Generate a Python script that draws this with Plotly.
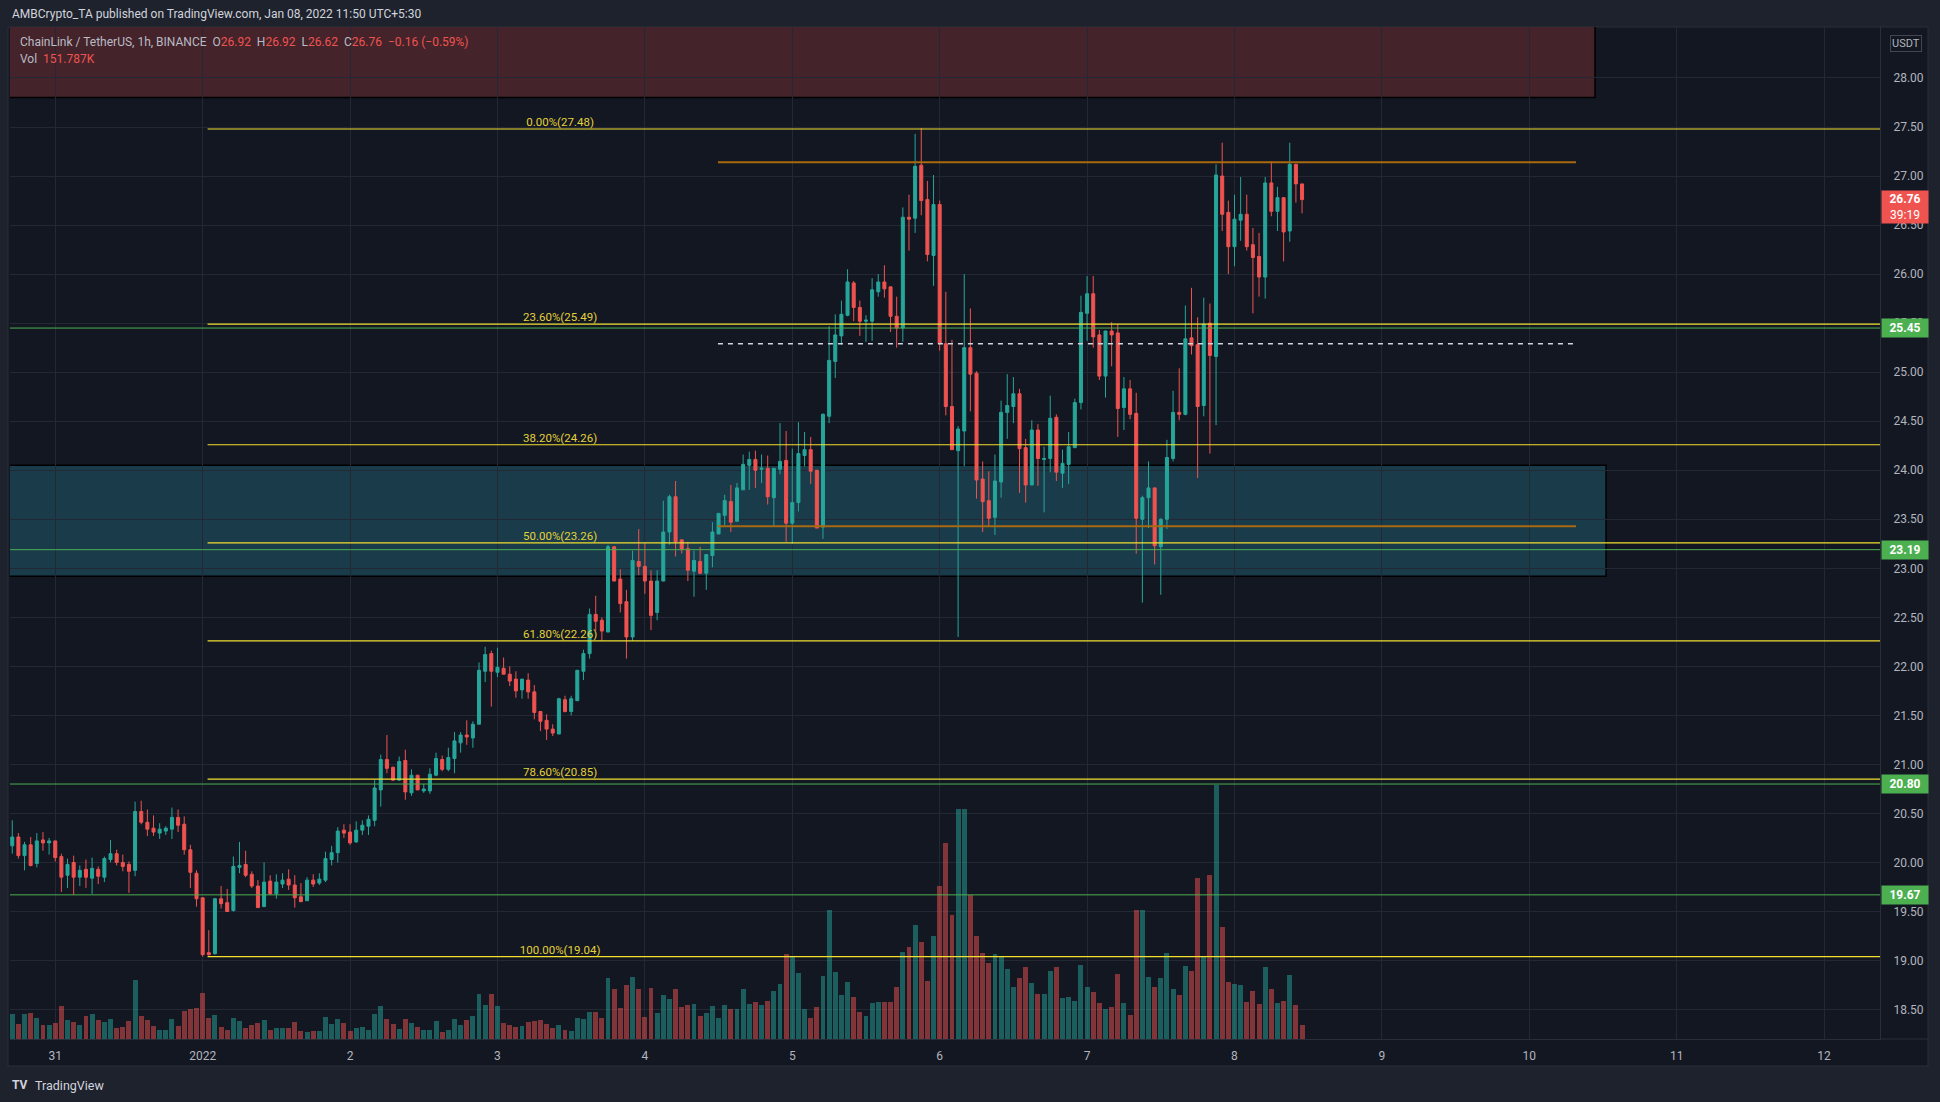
import pandas as pd
import plotly.graph_objects as go

# ---------------- data ----------------
opens = [20.17,20.26,20.07,20.18,19.99,20.23,20.20,20.22,20.06,19.87,
         20.00,19.85,19.93,19.84,19.93,19.85,20.03,20.09,20.00,19.98,
         19.92,20.52,20.41,20.35,20.30,20.32,20.34,20.46,20.39,20.13,
         19.89,19.64,19.08,19.07,19.63,19.59,19.51,19.95,19.98,19.88,
         19.76,19.55,19.81,19.68,19.78,19.83,19.77,19.65,19.61,19.82,
         19.79,19.82,20.03,20.10,20.33,20.31,20.21,20.33,20.37,20.43,
         20.74,21.05,20.97,20.84,21.04,20.71,20.89,20.73,20.73,20.89,
         21.05,20.95,21.06,21.22,21.30,21.27,21.41,21.95,22.13,21.94,
         21.98,21.92,21.87,21.76,21.86,21.74,21.54,21.45,21.36,21.31,
         21.66,21.54,21.65,21.95,22.13,22.53,22.47,22.35,23.22,22.89,
         22.66,22.30,23.07,23.02,22.87,22.55,22.87,23.37,23.73,23.29,
         23.20,22.97,23.07,22.95,23.13,23.35,23.54,23.68,23.48,23.80,
         24.05,24.11,24.01,24.02,23.72,24.01,24.10,23.46,23.67,24.15,
         24.21,24.00,23.42,24.55,25.11,25.37,25.58,25.91,25.66,25.52,
         25.52,25.82,25.92,25.87,25.57,25.45,26.58,26.57,27.11,26.76,
         26.19,26.71,25.29,24.65,24.20,24.40,25.25,24.99,23.91,23.69,
         23.52,23.88,24.59,24.65,24.78,24.23,23.85,24.41,24.11,24.12,
         24.54,23.97,24.06,24.23,24.69,25.60,25.80,25.38,24.96,25.42,
         25.40,24.64,24.83,24.58,23.50,23.72,23.82,23.22,23.50,24.12,
         24.59,24.57,25.35,25.28,24.66,25.50,25.16,27.00,26.63,26.28,
         26.55,26.61,26.30,26.18,25.97,26.93,26.64,26.78,26.44,27.12,
         26.92]
highs = [20.43,20.30,20.21,20.26,20.30,20.31,20.25,20.22,20.09,20.04,
         20.07,19.97,20.03,20.05,19.96,20.06,20.23,20.13,20.08,20.01,
         20.62,20.63,20.54,20.48,20.40,20.37,20.56,20.54,20.47,20.18,
         19.92,19.64,19.31,19.64,19.76,19.73,20.06,20.21,20.12,19.91,
         19.82,20.00,19.87,19.88,19.89,19.93,19.87,19.79,19.85,19.88,
         19.89,20.11,20.17,20.36,20.39,20.39,20.42,20.43,20.48,20.84,
         21.10,21.30,20.98,21.08,21.15,20.95,20.89,20.80,20.96,21.12,
         21.09,21.17,21.33,21.33,21.45,21.44,22.04,22.20,22.16,22.19,
         22.09,22.00,21.95,21.87,21.93,21.81,21.54,21.51,21.41,21.68,
         21.70,21.70,21.96,22.17,22.59,22.72,22.50,23.24,23.22,22.99,
         22.78,23.18,23.40,23.26,22.98,22.98,23.69,23.75,23.89,23.29,
         23.27,23.18,23.22,23.14,23.47,23.56,23.75,23.85,23.87,24.16,
         24.19,24.20,24.16,24.15,24.02,24.48,24.40,24.22,24.49,24.39,
         24.34,24.00,24.58,25.47,25.59,25.73,26.05,25.93,25.73,25.58,
         25.96,26.00,26.09,25.87,25.77,26.68,26.81,27.43,27.49,26.95,
         27.01,26.75,25.82,25.33,24.45,26.00,25.65,25.01,24.09,23.99,
         24.16,24.71,24.98,24.95,24.83,24.32,24.51,24.47,24.24,24.76,
         24.57,24.21,24.39,24.73,25.78,25.98,25.98,25.43,25.42,25.51,
         25.49,24.95,24.92,24.79,23.74,24.09,23.82,23.51,24.31,24.81,
         25.04,25.68,25.86,25.56,25.76,25.70,27.12,27.34,26.75,26.81,
         26.99,26.81,26.47,26.42,26.99,27.15,26.89,26.78,27.34,27.12,
         26.92]
lows = [20.09,20.04,19.92,19.96,19.95,20.12,20.08,20.01,19.70,19.74,
        19.67,19.76,19.74,19.68,19.78,19.80,20.00,19.97,19.91,19.69,
        19.86,20.39,20.27,20.27,20.24,20.28,20.24,20.31,20.08,19.74,
        19.55,19.04,19.05,19.06,19.53,19.50,19.50,19.89,19.85,19.74,
        19.54,19.55,19.67,19.63,19.74,19.72,19.54,19.60,19.61,19.75,
        19.77,19.80,19.97,20.00,20.25,20.18,20.20,20.28,20.28,20.37,
        20.57,20.91,20.83,20.83,20.64,20.68,20.74,20.71,20.70,20.88,
        20.93,20.93,20.91,21.12,21.20,21.17,21.41,21.84,21.59,21.89,
        21.92,21.80,21.68,21.67,21.67,21.46,21.34,21.25,21.29,21.31,
        21.53,21.50,21.65,21.86,22.08,22.36,22.26,22.35,22.87,22.55,
        22.08,22.26,22.93,22.74,22.37,22.47,22.87,23.24,23.12,23.15,
        22.87,22.71,22.94,22.78,23.01,23.35,23.44,23.37,23.48,23.80,
        23.80,23.82,23.87,23.65,23.43,23.96,23.27,23.25,23.58,24.04,
        23.86,23.41,23.30,24.48,24.94,25.28,25.57,25.52,25.37,25.31,
        25.32,25.77,25.76,25.41,25.25,25.31,26.24,26.42,26.60,26.13,
        25.88,25.22,24.56,24.21,22.30,24.04,24.60,23.71,23.37,23.43,
        23.34,23.72,24.32,24.48,23.77,23.67,23.85,23.84,23.57,23.98,
        23.89,23.82,23.86,24.23,24.62,25.32,25.25,24.92,24.74,25.06,
        24.34,24.41,24.52,23.15,22.65,23.41,23.04,22.73,23.40,24.09,
        24.51,24.56,25.18,23.92,24.55,24.17,24.46,26.44,26.00,26.08,
        26.34,26.24,25.60,25.77,25.75,26.59,26.44,26.13,26.33,26.73,
        26.62]
closes = [20.26,20.07,20.18,19.97,20.22,20.20,20.22,20.05,19.85,19.98,
          19.85,19.92,19.85,19.94,19.86,20.04,20.09,20.00,19.96,19.91,
          20.52,20.41,20.34,20.31,20.34,20.35,20.46,20.38,20.13,19.90,
          19.63,19.06,19.06,19.63,19.58,19.50,19.96,19.97,19.87,19.76,
          19.54,19.80,19.68,19.80,19.82,19.77,19.64,19.60,19.82,19.78,
          19.83,20.04,20.10,20.32,20.30,20.20,20.33,20.38,20.44,20.76,
          21.05,20.96,20.84,21.03,20.72,20.89,20.74,20.75,20.90,21.06,
          20.95,21.07,21.24,21.30,21.28,21.41,21.96,22.12,21.95,21.99,
          21.92,21.85,21.75,21.87,21.74,21.53,21.44,21.36,21.32,21.67,
          21.54,21.67,21.96,22.13,22.53,22.46,22.36,23.22,22.87,22.64,
          22.30,23.08,23.02,22.87,22.52,22.87,23.37,23.73,23.27,23.19,
          22.98,23.08,22.95,23.14,23.37,23.56,23.69,23.47,23.82,24.06,
          24.11,24.00,24.02,23.73,24.02,24.09,23.46,23.67,24.17,24.21,
          23.99,23.41,24.57,25.12,25.38,25.59,25.92,25.66,25.52,25.53,
          25.84,25.92,25.85,25.57,25.45,26.58,26.56,27.10,26.75,26.20,
          26.71,25.29,24.65,24.21,24.42,25.25,24.98,23.90,23.68,23.51,
          23.89,24.59,24.66,24.78,24.22,23.85,24.41,24.12,24.12,24.53,
          23.98,24.07,24.24,24.69,25.61,25.80,25.36,24.96,25.42,25.38,
          24.63,24.83,24.57,23.51,23.72,23.82,23.23,23.50,24.13,24.59,
          24.57,25.34,25.27,24.65,25.49,25.17,27.01,26.61,26.28,26.56,
          26.61,26.28,26.17,25.97,26.93,26.64,26.78,26.43,27.12,26.92,
          26.76]
volumes_k = [271,163,271,282,228,152,152,173,358,206,
             184,152,249,271,206,184,217,119,130,195,
             640,249,206,141,98,98,217,141,304,325,
             336,499,228,260,130,98,228,195,119,152,
             173,206,98,119,119,119,184,87,76,87,
             87,238,163,217,173,87,119,130,98,271,
             358,217,163,108,217,173,130,98,98,195,
             76,98,217,152,206,249,488,369,488,358,
             173,152,130,141,184,195,206,163,119,152,
             98,87,228,217,293,293,228,661,542,336,
             585,672,542,238,553,282,477,434,542,347,
             369,379,249,282,358,228,369,325,325,542,
             379,401,369,412,520,596,921,889,715,325,
             228,347,683,1398,726,477,618,455,293,249,
             390,401,401,401,564,943,997,1236,1051,629,
             1116,1658,2124,1344,2493,2493,1557,1116,932,824,
             921,900,759,564,661,780,607,488,488,737,
             780,444,455,412,802,564,509,390,325,347,
             705,390,260,1398,1398,672,564,661,932,542,
             477,791,737,1745,900,1778,2750,1214,618,596,
             585,401,520,379,780,542,390,412,694,369,
             151.787]

first_candle = "2021-12-30 17:00"
day_ticks = ["2021-12-31", "2022-01-01", "2022-01-02", "2022-01-03", "2022-01-04",
             "2022-01-05", "2022-01-06", "2022-01-07", "2022-01-08", "2022-01-09",
             "2022-01-10", "2022-01-11", "2022-01-12"]
day_labels = ["31", "2022", "2", "3", "4", "5", "6", "7", "8", "9", "10", "11", "12"]
price_ticks = [18.5, 19.0, 19.5, 20.0, 20.5, 21.0, 21.5, 22.0, 22.5, 23.0,
               23.5, 24.0, 24.5, 25.0, 25.5, 26.0, 26.5, 27.0, 27.5, 28.0]

fib_labels = ["0.00%", "23.60%", "38.20%", "50.00%", "61.80%", "78.60%", "100.00%"]
fib_prices = [27.48, 25.49, 24.26, 23.26, 22.26, 20.85, 19.04]
fib_start = "2022-01-01 00:48"
fib_label_time = "2022-01-03 10:12"

green_levels = [25.45, 23.19, 20.80, 19.67]
orange_levels = [27.14, 23.43]
dashed_level = 25.29
segment_start = "2022-01-04 11:54"
segment_end = "2022-01-10 07:36"

supply_zone = [27.80, 28.90]
supply_end = "2022-01-10 10:42"
demand_zone = [22.92, 24.05]
demand_end = "2022-01-10 12:30"
countdown = "39:19"

# ---------------- styling ----------------
W, H = 1940, 1102
PL, PR, PT, PB = 10, 1880, 27, 1039      # plot area in px
FONT = "Roboto"
GRID = "#242834"
AX_TXT = "#b2b5be"
UP, DOWN = "#26a69a", "#ef5350"

times = pd.date_range(first_candle, periods=len(opens), freq="h")
x_left = pd.Timestamp(first_candle) - pd.Timedelta(minutes=22)
x_right = pd.Timestamp("2022-01-12 09:06")
far_left = pd.Timestamp("2021-12-30 08:00")
far_right = pd.Timestamp("2022-01-13 12:00")

vol_colors = ["rgba(38,166,154,0.5)" if c >= o else "rgba(239,83,80,0.5)"
              for o, c in zip(opens, closes)]

fig = go.Figure()

fig.add_trace(go.Bar(x=times, y=volumes_k, marker=dict(color=vol_colors, line=dict(width=0)),
                     width=0.8 * 3600 * 1000, yaxis="y", xaxis="x", hoverinfo="skip"))

fig.add_trace(go.Candlestick(
    x=times, open=opens, high=highs, low=lows, close=closes, xaxis="x", yaxis="y2",
    increasing=dict(line=dict(color=UP, width=1), fillcolor=UP),
    decreasing=dict(line=dict(color=DOWN, width=1), fillcolor=DOWN),
    whiskerwidth=0, hoverinfo="skip"))

# horizontal levels drawn as line traces
for lv in green_levels:
    fig.add_trace(go.Scatter(x=[far_left, far_right], y=[lv, lv], mode="lines", yaxis="y2",
                             line=dict(color="#4caf50", width=1), hoverinfo="skip"))
for lv in fib_prices:
    fig.add_trace(go.Scatter(x=[pd.Timestamp(fib_start), far_right], y=[lv, lv], mode="lines",
                             yaxis="y2", line=dict(color="#f2df2f", width=1.2), hoverinfo="skip"))
for lv in orange_levels:
    fig.add_trace(go.Scatter(x=[pd.Timestamp(segment_start), pd.Timestamp(segment_end)], y=[lv, lv],
                             mode="lines", yaxis="y2", line=dict(color="#a8690f", width=2),
                             hoverinfo="skip"))
fig.add_trace(go.Scatter(x=[pd.Timestamp(segment_start), pd.Timestamp(segment_end)],
                         y=[dashed_level, dashed_level], mode="lines", yaxis="y2",
                         line=dict(color="#d1d4dc", width=1.5, dash="5px,5px"), hoverinfo="skip"))
fig.add_trace(go.Scatter(x=[pd.Timestamp(fib_label_time)] * len(fib_prices), y=fib_prices,
                         mode="text", yaxis="y2",
                         text=[f"{r}({p:.2f})" for r, p in zip(fib_labels, fib_prices)],
                         textposition="top center",
                         textfont=dict(color="#e3d23a", size=11.5, family=FONT), hoverinfo="skip"))

px = lambda v: v / W
py = lambda v: 1 - v / H

shapes = [
    dict(type="rect", xref="paper", yref="paper", x0=px(8), x1=px(1928), y0=py(1066), y1=py(27),
         fillcolor="#131722", line=dict(color="#2a2e39", width=1), layer="below"),
    dict(type="rect", xref="x", yref="y2", x0=far_left, x1=pd.Timestamp(supply_end),
         y0=supply_zone[0], y1=supply_zone[1], fillcolor="#45232a",
         line=dict(color="#000000", width=1.5), layer="below"),
    dict(type="rect", xref="x", yref="y2", x0=far_left, x1=pd.Timestamp(demand_end),
         y0=demand_zone[0], y1=demand_zone[1], fillcolor="#1a3b4a",
         line=dict(color="#000000", width=1.5), layer="below"),
    dict(type="line", xref="paper", yref="paper", x0=px(PR), x1=px(1928), y0=py(PB), y1=py(PB),
         line=dict(color="#2a2e39", width=1)),
]

annotations = []
# header
annotations.append(dict(xref="paper", yref="paper", x=px(10), y=py(14), xanchor="left", yanchor="middle",
                        text="AMBCrypto_TA published on TradingView.com, Jan 08, 2022 11:50 UTC+5:30",
                        showarrow=False, font=dict(color="#d1d4dc", size=12, family=FONT)))
# legend
red = lambda s: f"<span style='color:{DOWN}'>{s}</span>"
chg = closes[-1] - closes[-2]
pct = chg / closes[-2] * 100
sp = "\u00a0\u00a0"
leg = ("ChainLink / TetherUS, 1h, BINANCE" + sp + "O" + red(f"{opens[-1]:.2f}") + sp + "H" + red(f"{highs[-1]:.2f}")
       + sp + "L" + red(f"{lows[-1]:.2f}") + sp + "C" + red(f"{closes[-1]:.2f}") + sp
       + red(f"{chg:+.2f} ({pct:+.2f}%)".replace("-", "\u2212")))
annotations.append(dict(xref="paper", yref="paper", x=px(18), y=py(42), xanchor="left", yanchor="middle",
                        text=leg, showarrow=False, font=dict(color="#b8bcc5", size=12, family=FONT)))
annotations.append(dict(xref="paper", yref="paper", x=px(18), y=py(59), xanchor="left", yanchor="middle",
                        text="Vol" + sp + red(f"{volumes_k[-1]:.3f}K"), showarrow=False,
                        font=dict(color="#b8bcc5", size=12, family=FONT)))
# USDT box
annotations.append(dict(xref="paper", yref="paper", x=px(1906), y=py(43), xanchor="center", yanchor="middle",
                        text="USDT", showarrow=False, font=dict(color=AX_TXT, size=11, family=FONT),
                        bordercolor="#434651", borderwidth=1, borderpad=1, bgcolor="#131722"))
# price labels
for lv in green_levels:
    annotations.append(dict(xref="paper", yref="y2", x=px(PR + 1), y=lv, xanchor="left", yanchor="middle",
                            text=f"<b>{lv:.2f}</b>", showarrow=False, width=44, height=16,
                            bgcolor="#4caf50", font=dict(color="#ffffff", size=12, family=FONT), borderpad=1))
annotations.append(dict(xref="paper", yref="y2", x=px(PR + 1), y=closes[-1], xanchor="left", yanchor="top",
                        yshift=10, text=f"<b>{closes[-1]:.2f}</b><br>{countdown}", showarrow=False,
                        width=44, height=30, bgcolor=DOWN,
                        font=dict(color="#ffffff", size=12, family=FONT), borderpad=1))
# TradingView footer
annotations.append(dict(xref="paper", yref="paper", x=px(10), y=py(1085), xanchor="left", yanchor="middle",
                        text="<b>TV</b>", showarrow=False, font=dict(color="#d1d4dc", size=12, family=FONT)))
annotations.append(dict(xref="paper", yref="paper", x=px(33), y=py(1085), xanchor="left", yanchor="middle",
                        text="TradingView", showarrow=False, font=dict(color="#d1d4dc", size=12.5, family=FONT)))

fig.update_layout(
    width=W, height=H, margin=dict(l=0, r=0, t=0, b=0, pad=0),
    paper_bgcolor="#1e222d", plot_bgcolor="#131722", showlegend=False,
    bargap=0, shapes=shapes, annotations=annotations, hovermode=False,
    xaxis=dict(domain=[px(PL), px(PR)], type="date", range=[x_left, x_right],
               tickvals=day_ticks, ticktext=day_labels, showgrid=True, gridcolor=GRID, gridwidth=1,
               tickfont=dict(color=AX_TXT, size=12, family=FONT), ticks="", ticklabelstandoff=6,
               showline=True, linecolor="#2a2e39", zeroline=False, anchor="y",
               rangeslider=dict(visible=False), fixedrange=True, automargin=False),
    yaxis=dict(domain=[py(PB), py(PT)], range=[0, 10970], visible=False, fixedrange=True),
    yaxis2=dict(overlaying="y", side="right", anchor="x", range=[18.20, 28.52],
                tickvals=price_ticks, tickformat=".2f", showgrid=True, gridcolor=GRID, gridwidth=1,
                tickfont=dict(color=AX_TXT, size=12, family=FONT), ticks="", ticklabelstandoff=10,
                showline=True, linecolor="#2a2e39", zeroline=False, fixedrange=True, automargin=False),
)

fig.write_html("out.html", config={"displayModeBar": False})
